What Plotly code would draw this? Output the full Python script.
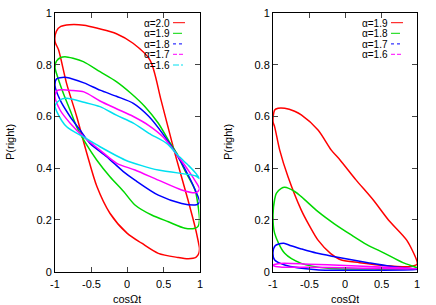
import plotly.graph_objects as go

# ---------------- data ----------------
left_names = ["α=2.0", "α=1.9", "α=1.8", "α=1.7", "α=1.6"]
left_colors = ["#ff0000", "#00d800", "#0000ff", "#ff00ff", "#00e0f0"]
left_dash = ["solid", "dash", "dot", "4px,2px", "6px,2px,2px,2px"]

L20_x = [-1.0, -0.98, -0.92, -0.8, -0.6, -0.4, -0.15, 0.08, 0.315, 0.467, 0.647, 0.841, 0.95, 0.98, 1.0,
         0.99, 0.95, 0.845, 0.7, 0.43, 0.2, 0.0, -0.24, -0.42, -0.56, -0.7, -0.84, -0.95, -1.0]
L20_y = [0.89, 0.93, 0.948, 0.955, 0.953, 0.94, 0.92, 0.883, 0.818, 0.664, 0.47, 0.277, 0.16, 0.12, 0.09,
         0.07, 0.055, 0.05, 0.055, 0.071, 0.11, 0.148, 0.226, 0.329, 0.458, 0.6, 0.728, 0.857, 0.89]

L19_x = [-1.0, -0.977, -0.92, -0.862, -0.75, -0.608, -0.377, -0.146, 0.05, 0.246, 0.43, 0.569, 0.684, 0.8,
         0.938, 0.983, 1.0, 0.98, 0.938, 0.8, 0.569, 0.338, 0.107, -0.05, -0.239, -0.423, -0.561, -0.7,
         -0.792, -0.885, -0.96, -1.0]
L19_y = [0.79, 0.815, 0.828, 0.831, 0.825, 0.812, 0.773, 0.734, 0.69, 0.638, 0.574, 0.509, 0.458, 0.39,
         0.316, 0.25, 0.2, 0.175, 0.168, 0.168, 0.193, 0.219, 0.258, 0.31, 0.367, 0.432, 0.49, 0.56,
         0.625, 0.69, 0.75, 0.79]

L18_x = [-1.0, -0.98, -0.93, -0.84, -0.6, -0.377, -0.15, 0.084, 0.3, 0.5, 0.68, 0.85, 0.95, 1.0,
         0.97, 0.938, 0.753, 0.43, 0.107, -0.054, -0.285, -0.515, -0.654, -0.792, -0.93, -1.0]
L18_y = [0.72, 0.745, 0.75, 0.751, 0.73, 0.702, 0.678, 0.651, 0.6, 0.53, 0.455, 0.37, 0.31, 0.27,
         0.26, 0.258, 0.264, 0.296, 0.354, 0.387, 0.445, 0.496, 0.548, 0.6, 0.664, 0.72]

L17_x = [-1.0, -0.97, -0.9, -0.75, -0.6, -0.377, -0.15, 0.084, 0.3, 0.5, 0.68, 0.85, 0.96, 1.0,
         0.97, 0.938, 0.753, 0.43, 0.107, -0.15, -0.377, -0.6, -0.79, -0.93, -1.0]
L17_y = [0.68, 0.7, 0.703, 0.7, 0.695, 0.66, 0.63, 0.6, 0.565, 0.52, 0.455, 0.39, 0.342, 0.32,
         0.308, 0.305, 0.316, 0.354, 0.393, 0.42, 0.47, 0.52, 0.574, 0.625, 0.68]

L16_x = [-1.0, -0.97, -0.9, -0.838, -0.6, -0.377, -0.15, 0.084, 0.3, 0.546, 0.7, 0.85, 0.95, 1.0,
         0.95, 0.892, 0.43, 0.2, -0.031, -0.377, -0.6, -0.838, -0.977, -1.0]
L16_y = [0.64, 0.655, 0.668, 0.67, 0.655, 0.638, 0.605, 0.574, 0.535, 0.496, 0.45, 0.41, 0.38, 0.36,
         0.37, 0.374, 0.393, 0.41, 0.432, 0.483, 0.52, 0.56, 0.62, 0.64]

right_names = ["α=1.9", "α=1.8", "α=1.7", "α=1.6"]
right_colors = ["#ff0000", "#00d800", "#0000ff", "#ff00ff"]
right_dash = ["solid", "dash", "dot", "4px,2px"]

R19_x = [-1.0, -0.977, -0.93, -0.838, -0.7, -0.608, -0.376, -0.192, -0.071, 0.15, 0.39, 0.6, 0.853, 0.99,
         1.0, 0.9, 0.5, 0.2, -0.053, -0.2, -0.376, -0.5, -0.608, -0.792, -0.907, -0.977, -1.0]
R19_y = [0.58, 0.625, 0.632, 0.632, 0.62, 0.606, 0.548, 0.47, 0.432, 0.355, 0.277, 0.2, 0.122, 0.045,
         0.03, 0.02, 0.025, 0.035, 0.045, 0.07, 0.122, 0.18, 0.238, 0.367, 0.47, 0.56, 0.58]

R18_x = [-1.0, -0.977, -0.954, -0.885, -0.838, -0.7, -0.608, -0.376, -0.15, 0.085, 0.3, 0.548, 0.8, 0.964,
         1.0, 0.8, 0.4, -0.238, -0.608, -0.838, -0.977, -1.0]
R18_y = [0.22, 0.28, 0.303, 0.322, 0.326, 0.31, 0.29, 0.232, 0.185, 0.142, 0.105, 0.071, 0.035, 0.019,
         0.015, 0.01, 0.01, 0.013, 0.032, 0.071, 0.148, 0.22]

R17_x = [-1.0, -0.97, -0.931, -0.85, -0.75, -0.608, -0.4, -0.145, 0.317, 0.6, 0.964, 1.0,
         0.5, -0.4, -0.838, -0.977, -1.0]
R17_y = [0.075, 0.1, 0.106, 0.11, 0.1, 0.088, 0.072, 0.058, 0.035, 0.022, 0.01, 0.008,
         0.006, 0.008, 0.026, 0.045, 0.075]

R16_x = [-1.0, -0.9, -0.5, 0.0, 0.5, 1.0, 0.5, 0.0, -0.5, -0.9, -1.0]
R16_y = [0.025, 0.032, 0.029, 0.024, 0.018, 0.012, 0.012, 0.015, 0.017, 0.018, 0.025]

x_tickvals = [-1, -0.5, 0, 0.5, 1]
x_ticktext = ["-1", "-0.5", "0", "0.5", "1"]
y_tickvals = [0, 0.2, 0.4, 0.6, 0.8, 1]
y_ticktext = ["0", "0.2", "0.4", "0.6", "0.8", "1"]

left_x = [L20_x, L19_x, L18_x, L17_x, L16_x]
left_y = [L20_y, L19_y, L18_y, L17_y, L16_y]
right_x = [R19_x, R18_x, R17_x, R16_x]
right_y = [R19_y, R18_y, R17_y, R16_y]

# ---------------- layout geometry ----------------
W, H = 436, 305
FONT = "Liberation Sans, Arial, sans-serif"


def px(x):
    return x / W


def py(y):
    return 1 - y / H


fig = go.Figure()

for xs, ys, c in zip(left_x, left_y, left_colors):
    fig.add_trace(go.Scatter(x=xs, y=ys, mode="lines", xaxis="x", yaxis="y",
                             line=dict(color=c, width=1.5, shape="spline", smoothing=0.8),
                             showlegend=False, hoverinfo="skip"))
for xs, ys, c in zip(right_x, right_y, right_colors):
    fig.add_trace(go.Scatter(x=xs, y=ys, mode="lines", xaxis="x2", yaxis="y2",
                             line=dict(color=c, width=1.5, shape="spline", smoothing=0.8),
                             showlegend=False, hoverinfo="skip"))

y_lo, y_hi = py(271.7), py(13)
common_x = dict(range=[-1, 1], tickvals=x_tickvals, ticktext=x_ticktext, ticks="inside", ticklen=5,
                mirror="allticks", showline=True, linecolor="black", linewidth=1, showgrid=False,
                zeroline=False, showticklabels=False, automargin=False)
common_y = dict(range=[0, 1], tickvals=y_tickvals, ticktext=y_ticktext, ticks="inside", ticklen=5,
                mirror="allticks", showline=True, linecolor="black", linewidth=1, showgrid=False,
                zeroline=False, tickfont=dict(family=FONT, size=11, color="black"), automargin=False)

fig.update_layout(
    width=W, height=H, margin=dict(l=0, r=0, t=0, b=0),
    paper_bgcolor="white", plot_bgcolor="white", showlegend=False,
    xaxis=dict(domain=[px(55), px(199.5)], anchor="y", **common_x),
    yaxis=dict(domain=[y_lo, y_hi], anchor="x", **common_y),
    xaxis2=dict(domain=[px(273), px(417.3)], anchor="y2", **common_x),
    yaxis2=dict(domain=[y_lo, y_hi], anchor="x2", **common_y),
)

annotations = []
shapes = []
# x tick labels (gnuplot places them close under the axis)
for xref in ("x", "x2"):
    for v, t in zip(x_tickvals, x_ticktext):
        annotations.append(dict(text=t, x=v, xref=xref, y=py(283.5), yref="paper", showarrow=False,
                                xanchor="center", yanchor="middle", borderpad=0, height=11,
                                font=dict(family=FONT, size=11, color="black")))
# axis titles
for xc in (127, 345):
    annotations.append(dict(text="cosΩt", x=px(xc), y=py(298), xref="paper", yref="paper",
                            xanchor="center", yanchor="middle", borderpad=0, height=11,
                            showarrow=False, font=dict(family=FONT, size=11, color="black")))
for xc in (10, 228):
    annotations.append(dict(text="P(right)", x=px(xc), y=py(142), xref="paper", yref="paper",
                            xanchor="center", yanchor="middle", textangle=-90, showarrow=False,
                            font=dict(family=FONT, size=11, color="black")))

# gnuplot-style keys (text then sample line)
row_y = [22.7, 33.3, 43.9, 54.3, 65.0]
for names, colors, dashes, text_right, s0, s1 in [
        (left_names, left_colors, left_dash, 170.5, 173, 185),
        (right_names, right_colors, right_dash, 388.5, 391, 403)]:
    for i, (n, c, d) in enumerate(zip(names, colors, dashes)):
        annotations.append(dict(text=n, x=px(text_right), y=py(row_y[i]), xref="paper", yref="paper",
                                xanchor="right", yanchor="middle", showarrow=False, height=10,
                                borderpad=0, font=dict(family=FONT, size=10, color="black")))
        shapes.append(dict(type="line", xref="paper", yref="paper", x0=px(s0), x1=px(s1),
                           y0=py(row_y[i]), y1=py(row_y[i]), line=dict(color=c, width=1, dash=d)))

fig.update_layout(annotations=annotations, shapes=shapes)
fig.write_html("out.html", config={"displayModeBar": False},
               post_script="document.body.style.margin='0';document.body.style.overflow='hidden';")
